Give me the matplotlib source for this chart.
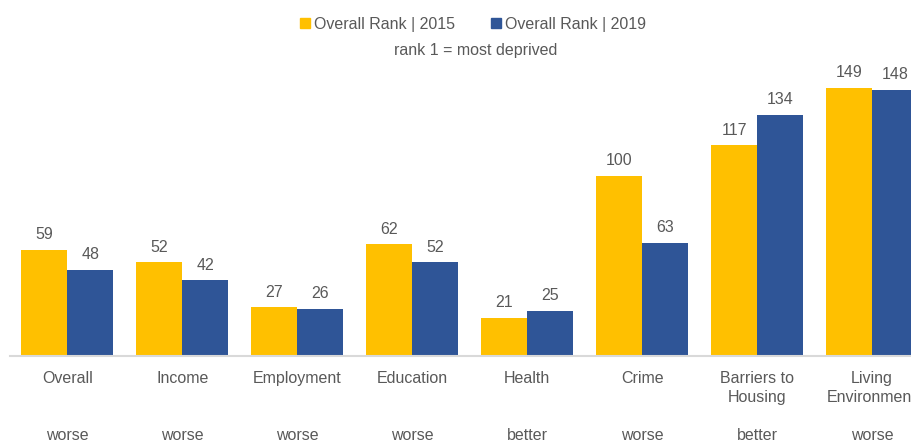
import matplotlib
matplotlib.use("Agg")
import matplotlib.pyplot as plt
from matplotlib.patches import Patch
from matplotlib.transforms import blended_transform_factory
import numpy as np

plt.rcParams['font.family'] = ['Liberation Sans', 'DejaVu Sans']

categories = ["Overall", "Income", "Employment", "Education", "Health", "Crime",
              "Barriers to\nHousing", "Living\nEnvironment"]
rank_2015 = [59, 52, 27, 62, 21, 100, 117, 149]
rank_2019 = [48, 42, 26, 52, 25, 63, 134, 148]
change = ["worse", "worse", "worse", "worse", "better", "worse", "better", "worse"]
series_names = ["Overall Rank | 2015", "Overall Rank | 2019"]
subtitle = "rank 1 = most deprived"

c2015 = "#FFC000"
c2019 = "#2F5597"
txt = "#595959"
fs = 11.5

W, H = 911, 441
fig = plt.figure(figsize=(W / 100, H / 100), dpi=100)
ax = fig.add_axes([10 / W, 85 / H, 901 / W, 288 / H])

x = np.arange(len(categories))
bw = 0.4
b1 = ax.bar(x - bw / 2, rank_2015, width=bw, color=c2015, zorder=2)
b2 = ax.bar(x + bw / 2, rank_2019, width=bw, color=c2019, zorder=2)

for bars in (b1, b2):
    for r in bars:
        ax.annotate(f"{int(r.get_height())}", (r.get_x() + r.get_width() / 2, r.get_height()),
                    xytext=(0, 11), textcoords="offset points", ha="center", va="center",
                    fontsize=fs, color=txt)

ax.set_xlim(-0.5, 7.34)
ax.set_ylim(0, 160)
for s in ["top", "right", "left"]:
    ax.spines[s].set_visible(False)
ax.spines["bottom"].set_color("#d9d9d9")
ax.spines["bottom"].set_linewidth(1.5)
ax.spines["bottom"].set_zorder(3)
ax.set_yticks([])
ax.set_xticks(x)
ax.set_xticklabels(categories, fontsize=fs, color=txt, linespacing=1.33, va="top")
ax.tick_params(axis="x", length=0, pad=10.5)

tr = blended_transform_factory(ax.transData, ax.transAxes)
for xi, c in zip(x, change):
    ax.text(xi, -79 / 288, c, transform=tr, ha="center", va="center", fontsize=fs, color=txt)

handles = [Patch(color=c2015), Patch(color=c2019)]
fig.legend(handles, series_names, loc="center", bbox_to_anchor=(473 / W, 1 - 24 / H), ncol=2,
           frameon=False, fontsize=fs, labelcolor=txt, handlelength=0.65, handleheight=0.65,
           handletextpad=0.25, columnspacing=2.2, borderaxespad=0)
fig.text(476 / W, 1 - 50 / H, subtitle, ha="center", va="center", fontsize=fs, color=txt)

fig.savefig("out.png", dpi=100)
